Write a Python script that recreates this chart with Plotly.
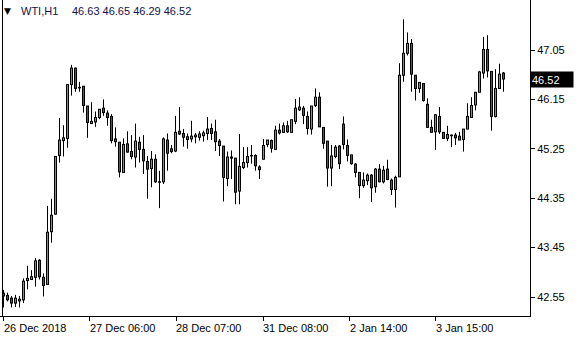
import plotly.graph_objects as go

# OHLC values (H1 bars, oldest first)
opens = [42.62, 42.58, 42.53, 42.44, 42.48, 42.50, 42.85, 42.87, 42.91, 43.22,
         42.91, 42.78, 43.74, 44.06, 45.13, 45.40, 45.44, 46.42, 46.72, 46.37,
         46.39, 46.03, 45.71, 45.74, 45.82, 45.99, 45.90, 45.84, 45.43, 45.37,
         44.82, 45.34, 45.20, 45.10, 45.37, 45.24, 45.02, 44.89, 45.06, 44.65,
         44.65, 45.41, 45.25, 45.21, 45.57, 45.53, 45.47, 45.43, 45.47, 45.46,
         45.49, 45.53, 45.62, 45.56, 45.39, 45.30, 44.71, 45.10, 45.08, 44.48,
         44.91, 45.00, 45.12, 45.13, 44.92, 45.06, 45.33, 45.40, 45.24, 45.59,
         45.55, 45.67, 45.55, 45.75, 45.96, 45.99, 45.84, 45.61, 46.04, 46.19,
         45.64, 45.39, 44.90, 45.11, 45.30, 45.70, 45.31, 45.14, 44.97, 44.82,
         44.58, 44.67, 44.77, 44.56, 44.88, 44.65, 44.88, 44.68, 44.51, 44.74,
         46.59, 46.99, 47.17, 46.59, 46.35, 46.44, 46.06, 45.64, 45.56, 45.84,
         45.55, 45.44, 45.50, 45.50, 45.48, 45.42, 45.61, 45.82, 46.05, 46.28,
         46.63, 47.06, 46.66, 45.84, 46.35, 46.63]
highs = [42.68, 42.63, 42.57, 42.59, 42.57, 42.89, 43.12, 43.04, 43.26, 43.24,
         42.98, 44.21, 44.34, 45.11, 45.81, 45.68, 46.43, 46.78, 46.73, 46.47,
         46.39, 46.03, 46.10, 45.93, 45.97, 46.15, 45.95, 45.88, 45.64, 45.37,
         45.44, 45.57, 45.50, 45.71, 45.47, 45.50, 45.12, 45.21, 45.15, 44.85,
         45.46, 45.53, 45.32, 45.85, 46.01, 45.61, 45.53, 45.76, 45.54, 45.57,
         45.58, 45.83, 45.71, 45.78, 45.43, 45.30, 45.20, 45.22, 45.08, 45.52,
         45.28, 45.28, 45.32, 45.15, 44.95, 45.43, 45.41, 45.42, 45.67, 45.71,
         45.73, 45.76, 45.78, 46.16, 46.19, 46.03, 45.93, 46.03, 46.35, 46.28,
         45.64, 45.39, 45.32, 45.32, 45.32, 45.84, 45.42, 45.14, 44.99, 44.82,
         44.82, 44.80, 44.79, 44.90, 44.97, 44.94, 45.05, 44.71, 44.76, 46.81,
         47.61, 47.37, 47.25, 46.59, 46.46, 46.44, 46.17, 45.78, 45.88, 46.01,
         45.55, 45.67, 45.51, 45.54, 45.56, 45.61, 46.08, 46.19, 46.28, 46.67,
         47.29, 47.32, 46.66, 46.70, 46.80, 46.65]
lows = [42.36, 42.47, 42.36, 42.37, 42.36, 42.44, 42.69, 42.86, 42.74, 42.87,
        42.56, 42.77, 43.54, 44.05, 45.00, 45.11, 45.27, 46.22, 46.29, 46.29,
        45.91, 45.45, 45.71, 45.65, 45.79, 45.85, 45.67, 45.35, 45.29, 44.73,
        44.82, 45.18, 45.06, 44.91, 45.00, 44.79, 44.34, 44.55, 44.63, 44.17,
        44.61, 44.85, 45.17, 45.19, 45.50, 45.29, 45.25, 45.37, 45.35, 45.40,
        45.38, 45.41, 45.41, 45.21, 45.12, 44.29, 44.57, 44.70, 44.24, 44.24,
        44.88, 44.91, 44.98, 44.85, 44.70, 45.06, 45.28, 45.18, 45.24, 45.51,
        45.54, 45.54, 45.55, 45.70, 45.94, 45.70, 45.51, 45.51, 46.01, 45.65,
        45.25, 44.56, 44.57, 45.08, 44.88, 45.24, 45.02, 44.96, 44.73, 44.35,
        44.54, 44.59, 44.28, 44.45, 44.64, 44.62, 44.68, 44.41, 44.18, 44.74,
        46.47, 46.95, 46.29, 46.13, 46.27, 46.11, 45.64, 45.55, 45.23, 45.52,
        45.44, 45.39, 45.28, 45.32, 45.41, 45.20, 45.61, 45.82, 45.95, 46.28,
        46.53, 46.55, 45.58, 45.82, 46.34, 46.29]
closes = [42.57, 42.50, 42.44, 42.53, 42.51, 42.84, 42.89, 42.92, 43.21, 42.92,
          42.76, 43.73, 44.04, 45.11, 45.41, 45.45, 46.42, 46.72, 46.35, 46.36,
          46.04, 45.73, 45.75, 45.82, 45.97, 45.91, 45.82, 45.40, 45.38, 44.83,
          45.33, 45.19, 45.11, 45.39, 45.24, 45.03, 44.88, 45.06, 44.65, 44.64,
          45.43, 45.17, 45.20, 45.55, 45.52, 45.46, 45.42, 45.48, 45.50, 45.52,
          45.54, 45.61, 45.53, 45.38, 45.31, 44.73, 45.10, 45.08, 44.46, 44.93,
          45.00, 45.11, 45.13, 44.94, 44.87, 45.31, 45.41, 45.26, 45.59, 45.54,
          45.67, 45.56, 45.78, 45.99, 46.01, 45.86, 45.62, 46.03, 46.19, 45.65,
          45.35, 44.90, 45.12, 45.28, 44.98, 45.33, 45.13, 44.98, 44.82, 44.58,
          44.68, 44.77, 44.54, 44.88, 44.65, 44.86, 44.69, 44.51, 44.73, 46.59,
          46.99, 47.17, 46.61, 46.35, 46.46, 46.13, 45.64, 45.55, 45.87, 45.56,
          45.44, 45.51, 45.49, 45.45, 45.41, 45.61, 45.84, 46.04, 46.28, 46.65,
          47.06, 46.67, 45.84, 46.35, 46.61, 46.52]

bar_index = list(range(len(opens)))

time_tick_pos = [0, 21.5, 43.2, 64.9, 86.5, 108]
time_tick_text = ["26 Dec 2018", "27 Dec 06:00", "28 Dec 07:00",
                  "31 Dec 08:00", "2 Jan 14:00", "3 Jan 15:00"]
price_ticks = [42.55, 43.45, 44.35, 45.25, 46.15, 47.05]
symbol = "WTI,H1"
last_ohlc = [46.63, 46.65, 46.29, 46.52]

FONT = "Liberation Sans, Arial, sans-serif"
UP = "#3cbf3c"
DOWN = "#e01b1b"
Y0, Y1 = 42.2048, 47.9608
PLOT_H = 316
EDGE = 0.5 * (Y1 - Y0) / PLOT_H   # half a pixel, in price units

fig = go.Figure()


def segments(items):
    xs, ys = [], []
    for i, a, b in items:
        xs += [i, i, None]
        ys += [a, b, None]
    return xs, ys


# wicks (full high-low range)
wx, wy = segments(zip(bar_index, lows, highs))
fig.add_trace(go.Scatter(x=wx, y=wy, mode="lines",
                         line=dict(color="black", width=1),
                         showlegend=False, hoverinfo="skip"))

# body outlines: 3 px black strokes
ox, oy = segments((i, min(o, c) - EDGE, max(o, c) + EDGE)
                  for i, o, c in zip(bar_index, opens, closes))
fig.add_trace(go.Scatter(x=ox, y=oy, mode="lines",
                         line=dict(color="black", width=3),
                         showlegend=False, hoverinfo="skip"))

# body fills: 1 px coloured strokes inside the outline
for col, up in ((UP, True), (DOWN, False)):
    fx, fy = segments((i, min(o, c) + EDGE, max(o, c) - EDGE)
                      for i, o, c in zip(bar_index, opens, closes)
                      if (c >= o) == up and abs(c - o) > 2 * EDGE)
    fig.add_trace(go.Scatter(x=fx, y=fy, mode="lines",
                             line=dict(color=col, width=1),
                             showlegend=False, hoverinfo="skip"))

annotations = []
for pos, txt in zip(time_tick_pos, time_tick_text):
    annotations.append(dict(x=pos, y=0, xref="x", yref="paper", text=txt,
                            showarrow=False, xanchor="left", yanchor="top",
                            xshift=-2, yshift=-4,
                            font=dict(family=FONT, size=11, color="black")))
annotations.append(dict(x=0, y=1, xref="paper", yref="paper", text="▼",
                        showarrow=False, xanchor="left", yanchor="top",
                        xshift=2, yshift=-4,
                        font=dict(family="DejaVu Sans", size=9, color="black")))
annotations.append(dict(x=0, y=1, xref="paper", yref="paper", text=symbol,
                        showarrow=False, xanchor="left", yanchor="top",
                        xshift=19, yshift=-3,
                        font=dict(family=FONT, size=11, color="#10104a")))
annotations.append(dict(x=0, y=1, xref="paper", yref="paper",
                        text=" ".join(f"{v:.2f}" for v in last_ohlc),
                        showarrow=False, xanchor="left", yanchor="top",
                        xshift=70, yshift=-3,
                        font=dict(family=FONT, size=11, color="#10104a")))
annotations.append(dict(x=1, y=last_ohlc[3], xref="paper", yref="y",
                        text=f"{last_ohlc[3]:.2f}", showarrow=False,
                        xanchor="left", yanchor="middle", xshift=0,
                        width=40, height=13, align="left", borderpad=1,
                        bgcolor="black",
                        font=dict(family=FONT, size=11, color="white")))

fig.update_layout(
    width=580, height=340,
    margin=dict(l=0, r=50, t=0, b=24),
    paper_bgcolor="white", plot_bgcolor="white",
    annotations=annotations,
    shapes=[dict(type="line", xref="paper", yref="paper", x0=0.0047, x1=0.0047,
                 y0=0, y1=1, line=dict(color="black", width=1))],
    xaxis=dict(range=[-0.875, 131.625], showgrid=False, zeroline=False,
               showline=True, linecolor="black", linewidth=1,
               ticks="outside", ticklen=4, tickcolor="black",
               tickvals=time_tick_pos, ticktext=[""] * len(time_tick_pos),
               fixedrange=True),
    yaxis=dict(range=[Y0, Y1], side="right", showgrid=False,
               zeroline=False, showline=True, linecolor="black", linewidth=1,
               ticks="outside", ticklen=4, tickcolor="black",
               tickvals=price_ticks, ticktext=[f"{v:.2f}" for v in price_ticks],
               tickfont=dict(family=FONT, size=11, color="black"),
               fixedrange=True),
)

fig.write_html("out.html")
